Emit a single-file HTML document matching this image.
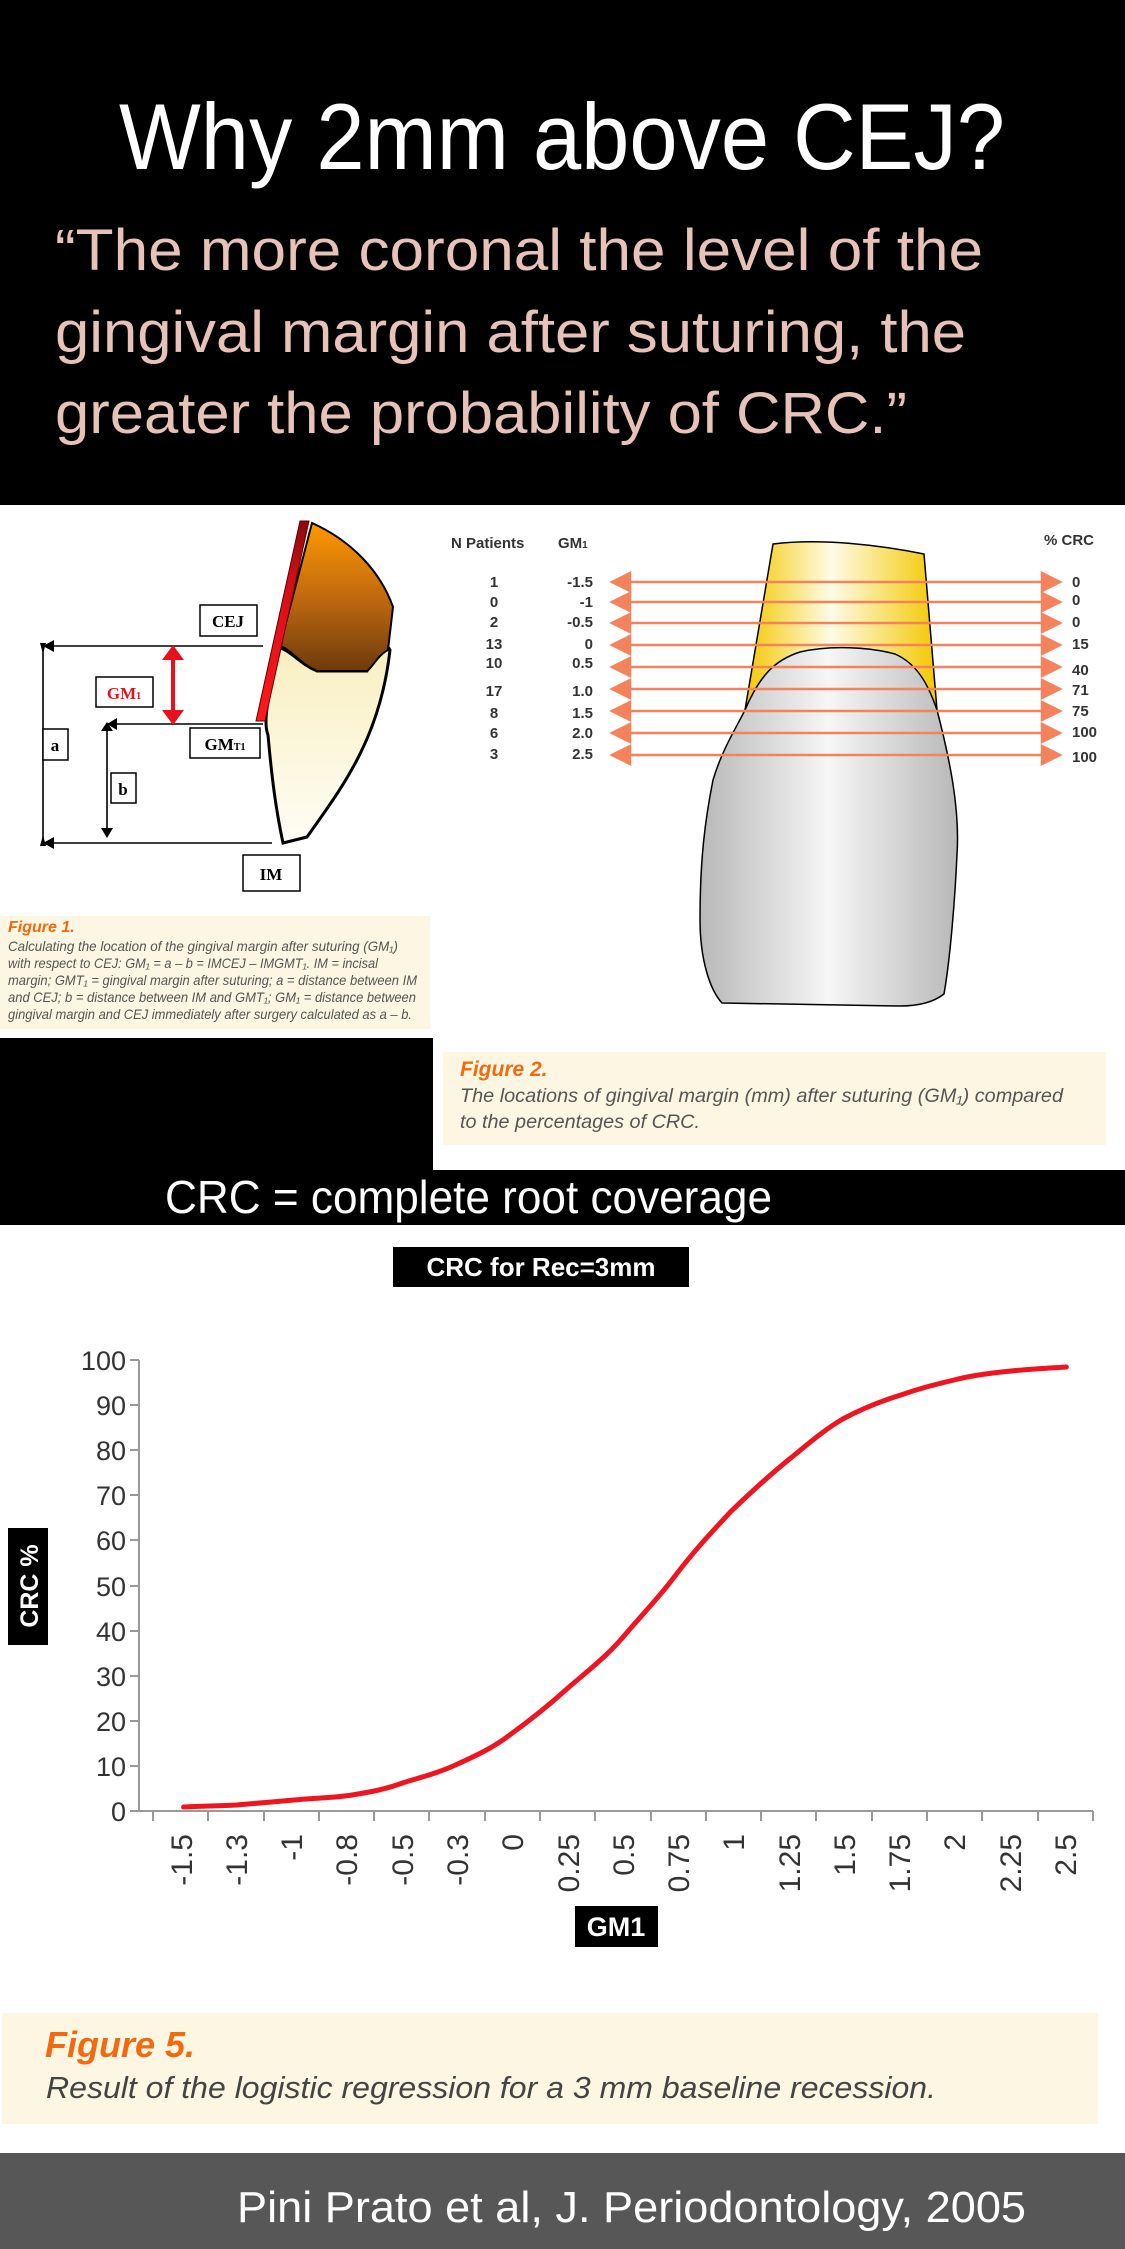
<!DOCTYPE html>
<html><head><meta charset="utf-8"><style>
html,body{margin:0;padding:0;background:#000;}
svg{display:block;}
</style></head><body>
<svg width="1125" height="2249" viewBox="0 0 1125 2249" xmlns="http://www.w3.org/2000/svg" font-family="Liberation Sans, Arial, sans-serif">
<defs>
<linearGradient id="crown1" x1="0" y1="0" x2="0" y2="1"><stop offset="0" stop-color="#ff9800"/><stop offset="0.5" stop-color="#c06a10"/><stop offset="1" stop-color="#6e3a0c"/></linearGradient>
<linearGradient id="root1" x1="0" y1="0" x2="0" y2="1"><stop offset="0" stop-color="#f8efc0"/><stop offset="1" stop-color="#fffdf6"/></linearGradient>
<linearGradient id="gum1" x1="0" y1="0" x2="0" y2="1"><stop offset="0" stop-color="#8a0a10"/><stop offset="0.3" stop-color="#d01018"/><stop offset="1" stop-color="#ff1a1a"/></linearGradient>
<linearGradient id="crown2" x1="0" y1="0" x2="1" y2="0"><stop offset="0" stop-color="#f3c800"/><stop offset="0.45" stop-color="#fffbe6"/><stop offset="1" stop-color="#f3c800"/></linearGradient>
<linearGradient id="root2" x1="0" y1="0" x2="1" y2="0"><stop offset="0" stop-color="#b8b8b8"/><stop offset="0.5" stop-color="#f6f6f6"/><stop offset="1" stop-color="#b8b8b8"/></linearGradient>
</defs>
<rect width="1125" height="2249" fill="#000"/>
<text x="119" y="169" font-size="94" fill="#fff" textLength="886" lengthAdjust="spacingAndGlyphs">Why 2mm above CEJ?</text>
<g fill="#e6c2b8" font-size="58">
<text x="55" y="270" textLength="928" lengthAdjust="spacingAndGlyphs">“The more coronal the level of the</text>
<text x="55" y="352" textLength="911" lengthAdjust="spacingAndGlyphs">gingival margin after suturing, the</text>
<text x="55" y="433" textLength="852" lengthAdjust="spacingAndGlyphs">greater the probability of CRC.”</text>
</g>

<rect x="0" y="505" width="433" height="533" fill="#fff"/>
<rect x="0" y="916" width="430" height="113" fill="#fdf6e2"/>
<path d="M280,648 C270,690 262,720 268,735 C272,780 276,810 283,843 L307,837 C340,790 380,740 390,650 C385,640 375,650 367,671 L317,671 C300,664 290,650 280,648 Z" fill="url(#root1)" stroke="#000" stroke-width="3"/>
<path d="M312,523 C350,540 380,570 393,607 L388,650 C378,655 372,668 367,671 L317,671 C300,664 292,650 280,646 Z" fill="url(#crown1)" stroke="#000" stroke-width="2"/>
<path d="M300,521 L309,521 L265,721 L256,721 Z" fill="url(#gum1)" stroke="#600" stroke-width="1"/>
<g stroke="#000" stroke-width="1.6" fill="none">
<line x1="43" y1="646" x2="263" y2="646"/>
<line x1="107" y1="724" x2="263" y2="724"/>
<line x1="43" y1="843" x2="272" y2="843"/>
<line x1="43" y1="646" x2="43" y2="843"/>
<line x1="107" y1="724" x2="107" y2="836"/>
</g>
<g fill="#000">
<polygon points="43,646 54,640 54,652"/><polygon points="40,643 46,643 43,654"/>
<polygon points="43,843 54,837 54,849"/><polygon points="40,846 46,846 43,835"/>
<polygon points="107,724 117,718 117,730"/><polygon points="101,731 113,731 107,722"/>
<polygon points="101,828 113,828 107,838"/>
</g>
<line x1="173" y1="656" x2="173" y2="714" stroke="#e8101c" stroke-width="4"/>
<polygon points="173,645 162,660 184,660" fill="#e8101c"/>
<polygon points="173,725 162,710 184,710" fill="#e8101c"/>
<g fill="#fff" stroke="#000" stroke-width="1.5">
<rect x="200" y="605" width="57" height="31"/>
<rect x="96" y="677" width="57" height="30"/>
<rect x="43" y="729" width="25" height="31"/>
<rect x="111" y="773" width="25" height="30"/>
<rect x="190" y="728" width="70" height="30"/>
<rect x="243" y="855" width="57" height="36"/>
</g>
<g font-family="Liberation Serif, serif" font-weight="bold" font-size="17" text-anchor="middle">
<text x="228" y="627">CEJ</text>
<text x="124" y="699" fill="#e8101c">GM<tspan font-size="10">1</tspan></text>
<text x="55" y="751">a</text>
<text x="123" y="795">b</text>
<text x="225" y="750">GM<tspan font-size="10">T1</tspan></text>
<text x="271" y="880">IM</text>
</g>
<text x="8" y="932" font-size="16" font-weight="bold" font-style="italic" fill="#f26a10">Figure 1.</text>
<g font-size="14" font-style="italic" fill="#555">
<text x="8" y="951" textLength="390" lengthAdjust="spacingAndGlyphs">Calculating the location of the gingival margin after suturing (GM₁)</text>
<text x="8" y="968" textLength="370" lengthAdjust="spacingAndGlyphs">with respect to CEJ: GM₁ = a – b = IMCEJ – IMGMT₁. IM = incisal</text>
<text x="8" y="985" textLength="409" lengthAdjust="spacingAndGlyphs">margin; GMT₁ = gingival margin after suturing; a = distance between IM</text>
<text x="8" y="1002" textLength="408" lengthAdjust="spacingAndGlyphs">and CEJ; b = distance between IM and GMT₁; GM₁ = distance between</text>
<text x="8" y="1019" textLength="404" lengthAdjust="spacingAndGlyphs">gingival margin and CEJ immediately after surgery calculated as a – b.</text>
</g>

<rect x="433" y="505" width="692" height="665" fill="#fff"/>
<rect x="443" y="1052" width="663" height="93" fill="#fdf6e2"/>
<path d="M773,544 C820,538 880,545 924,554 L937,710 L745,710 Z" fill="url(#crown2)" stroke="#000" stroke-width="1.5"/>
<path d="M745,710 C760,675 775,660 800,652 C830,645 870,647 895,654 C920,665 930,690 937,710 C950,760 960,810 957,854 C955,900 950,960 944,994 C930,1005 910,1006 900,1006 L722,1003 C710,990 700,960 700,919 C700,860 705,820 713,780 C722,750 735,730 745,710 Z" fill="url(#root2)" stroke="#000" stroke-width="1.5"/>
<g font-weight="bold" font-size="15" fill="#333">
<text x="451" y="548">N Patients</text>
<text x="558" y="548">GM<tspan font-size="10">1</tspan></text>
<text x="1044" y="545">% CRC</text>
</g>
<g stroke="#f4825c" stroke-width="2.5" fill="#f4825c">
<line x1="615" y1="582" x2="1055" y2="582"/><polygon points="612,582 630,573 630,591"/><polygon points="1060,582 1042,573 1042,591"/>
<line x1="615" y1="602" x2="1055" y2="602"/><polygon points="612,602 630,593 630,611"/><polygon points="1060,602 1042,593 1042,611"/>
<line x1="615" y1="623" x2="1055" y2="623"/><polygon points="612,623 630,614 630,632"/><polygon points="1060,623 1042,614 1042,632"/>
<line x1="615" y1="645" x2="1055" y2="645"/><polygon points="612,645 630,636 630,654"/><polygon points="1060,645 1042,636 1042,654"/>
<line x1="615" y1="667" x2="1055" y2="667"/><polygon points="612,667 630,658 630,676"/><polygon points="1060,667 1042,658 1042,676"/>
<line x1="615" y1="689" x2="1055" y2="689"/><polygon points="612,689 630,680 630,698"/><polygon points="1060,689 1042,680 1042,698"/>
<line x1="615" y1="711" x2="1055" y2="711"/><polygon points="612,711 630,702 630,720"/><polygon points="1060,711 1042,702 1042,720"/>
<line x1="615" y1="733" x2="1055" y2="733"/><polygon points="612,733 630,724 630,742"/><polygon points="1060,733 1042,724 1042,742"/>
<line x1="615" y1="755" x2="1055" y2="755"/><polygon points="612,755 630,746 630,764"/><polygon points="1060,755 1042,746 1042,764"/>
</g>
<g font-weight="bold" font-size="15" fill="#333" text-anchor="middle">
<text x="494" y="587">1</text><text x="494" y="607">0</text><text x="494" y="627">2</text><text x="494" y="649">13</text><text x="494" y="668">10</text><text x="494" y="696">17</text><text x="494" y="718">8</text><text x="494" y="738">6</text><text x="494" y="759">3</text>
</g>
<g font-weight="bold" font-size="15" fill="#333" text-anchor="end">
<text x="593" y="587">-1.5</text><text x="593" y="607">-1</text><text x="593" y="627">-0.5</text><text x="593" y="649">0</text><text x="593" y="668">0.5</text><text x="593" y="696">1.0</text><text x="593" y="718">1.5</text><text x="593" y="738">2.0</text><text x="593" y="759">2.5</text>
</g>
<g font-weight="bold" font-size="15" fill="#333">
<text x="1072" y="587">0</text><text x="1072" y="605">0</text><text x="1072" y="627">0</text><text x="1072" y="649">15</text><text x="1072" y="675">40</text><text x="1072" y="695">71</text><text x="1072" y="716">75</text><text x="1072" y="737">100</text><text x="1072" y="762">100</text>
</g>
<text x="460" y="1076" font-size="21" font-weight="bold" font-style="italic" fill="#f26a10">Figure 2.</text>
<g font-size="19" font-style="italic" fill="#555">
<text x="460" y="1102" textLength="603" lengthAdjust="spacingAndGlyphs">The locations of gingival margin (mm) after suturing (GM₁) compared</text>
<text x="460" y="1128" textLength="240" lengthAdjust="spacingAndGlyphs">to the percentages of CRC.</text>
</g>

<text x="165" y="1213" font-size="46" fill="#fff" textLength="607" lengthAdjust="spacingAndGlyphs">CRC = complete root coverage</text>

<rect x="0" y="1225" width="1125" height="928" fill="#fff"/>
<rect x="393" y="1247" width="296" height="40" fill="#000"/>
<text x="541" y="1276" font-size="26" font-weight="bold" fill="#fff" text-anchor="middle">CRC for Rec=3mm</text>
<g stroke="#999" stroke-width="2">
<line x1="139" y1="1360" x2="139" y2="1811"/>
<line x1="139" y1="1811" x2="1093" y2="1811"/>
<line x1="130" y1="1360" x2="139" y2="1360"/><line x1="130" y1="1405" x2="139" y2="1405"/><line x1="130" y1="1450" x2="139" y2="1450"/><line x1="130" y1="1495" x2="139" y2="1495"/><line x1="130" y1="1540" x2="139" y2="1540"/><line x1="130" y1="1586" x2="139" y2="1586"/><line x1="130" y1="1631" x2="139" y2="1631"/><line x1="130" y1="1676" x2="139" y2="1676"/><line x1="130" y1="1721" x2="139" y2="1721"/><line x1="130" y1="1766" x2="139" y2="1766"/><line x1="130" y1="1811" x2="139" y2="1811"/>
</g>
<g stroke="#999" stroke-width="2">
<line x1="153" y1="1811" x2="153" y2="1821"/><line x1="208" y1="1811" x2="208" y2="1821"/><line x1="264" y1="1811" x2="264" y2="1821"/><line x1="319" y1="1811" x2="319" y2="1821"/><line x1="374" y1="1811" x2="374" y2="1821"/><line x1="429" y1="1811" x2="429" y2="1821"/><line x1="485" y1="1811" x2="485" y2="1821"/><line x1="540" y1="1811" x2="540" y2="1821"/><line x1="595" y1="1811" x2="595" y2="1821"/><line x1="651" y1="1811" x2="651" y2="1821"/><line x1="706" y1="1811" x2="706" y2="1821"/><line x1="761" y1="1811" x2="761" y2="1821"/><line x1="816" y1="1811" x2="816" y2="1821"/><line x1="872" y1="1811" x2="872" y2="1821"/><line x1="927" y1="1811" x2="927" y2="1821"/><line x1="982" y1="1811" x2="982" y2="1821"/><line x1="1038" y1="1811" x2="1038" y2="1821"/><line x1="1093" y1="1811" x2="1093" y2="1821"/>
</g>
<g font-size="27" fill="#333" text-anchor="end">
<text x="126" y="1370">100</text><text x="126" y="1415">90</text><text x="126" y="1460">80</text><text x="126" y="1505">70</text><text x="126" y="1550">60</text><text x="126" y="1596">50</text><text x="126" y="1641">40</text><text x="126" y="1686">30</text><text x="126" y="1731">20</text><text x="126" y="1776">10</text><text x="126" y="1821">0</text>
</g>
<g font-size="30" fill="#333" text-anchor="end">
<text transform="translate(192,1834) rotate(-90)">-1.5</text>
<text transform="translate(247,1834) rotate(-90)">-1.3</text>
<text transform="translate(302,1834) rotate(-90)">-1</text>
<text transform="translate(357,1834) rotate(-90)">-0.8</text>
<text transform="translate(413,1834) rotate(-90)">-0.5</text>
<text transform="translate(468,1834) rotate(-90)">-0.3</text>
<text transform="translate(523,1834) rotate(-90)">0</text>
<text transform="translate(579,1834) rotate(-90)">0.25</text>
<text transform="translate(634,1834) rotate(-90)">0.5</text>
<text transform="translate(689,1834) rotate(-90)">0.75</text>
<text transform="translate(744,1834) rotate(-90)">1</text>
<text transform="translate(800,1834) rotate(-90)">1.25</text>
<text transform="translate(855,1834) rotate(-90)">1.5</text>
<text transform="translate(910,1834) rotate(-90)">1.75</text>
<text transform="translate(965,1834) rotate(-90)">2</text>
<text transform="translate(1021,1834) rotate(-90)">2.25</text>
<text transform="translate(1076,1834) rotate(-90)">2.5</text>
</g>
<g transform="translate(153,0) scale(0.9853,1) translate(-139,0)">
<path d="M170,1807 C190,1806 205,1806 224,1805 C245,1803 262,1802 282,1800 C302,1798 322,1798 341,1795 C360,1792 376,1789 392,1783 C412,1777 428,1773 446,1765 C466,1756 484,1748 501,1735 C522,1720 540,1706 559,1689 C580,1671 600,1656 617,1636 C635,1615 652,1598 668,1577 C688,1551 706,1532 726,1511 C746,1492 765,1475 785,1459 C805,1443 820,1430 839,1419 C860,1408 878,1401 898,1395 C918,1388 935,1384 952,1380 C972,1375 990,1373 1010,1371 C1030,1369 1048,1368 1066,1367" fill="none" stroke="#ee1520" stroke-width="5" stroke-linecap="round"/>
</g>
<rect x="8" y="1528" width="40" height="117" fill="#000"/>
<text transform="translate(38,1586) rotate(-90)" font-size="25" font-weight="bold" fill="#fff" text-anchor="middle">CRC %</text>
<rect x="575" y="1906" width="83" height="41" fill="#000"/>
<text x="616" y="1936" font-size="27" font-weight="bold" fill="#fff" text-anchor="middle">GM1</text>

<rect x="2" y="2013" width="1096" height="111" fill="#fdf6e2"/>
<text x="45" y="2057" font-size="36" font-weight="bold" font-style="italic" fill="#f26a10">Figure 5.</text>
<text x="46" y="2098" font-size="31" font-style="italic" fill="#444" textLength="890" lengthAdjust="spacingAndGlyphs">Result of the logistic regression for a 3 mm baseline recession.</text>

<rect x="0" y="2153" width="1125" height="96" fill="#575757"/>
<text x="237" y="2222" font-size="44" fill="#fff" textLength="789" lengthAdjust="spacingAndGlyphs">Pini Prato et al, J. Periodontology, 2005</text>
</svg>
</body></html>
